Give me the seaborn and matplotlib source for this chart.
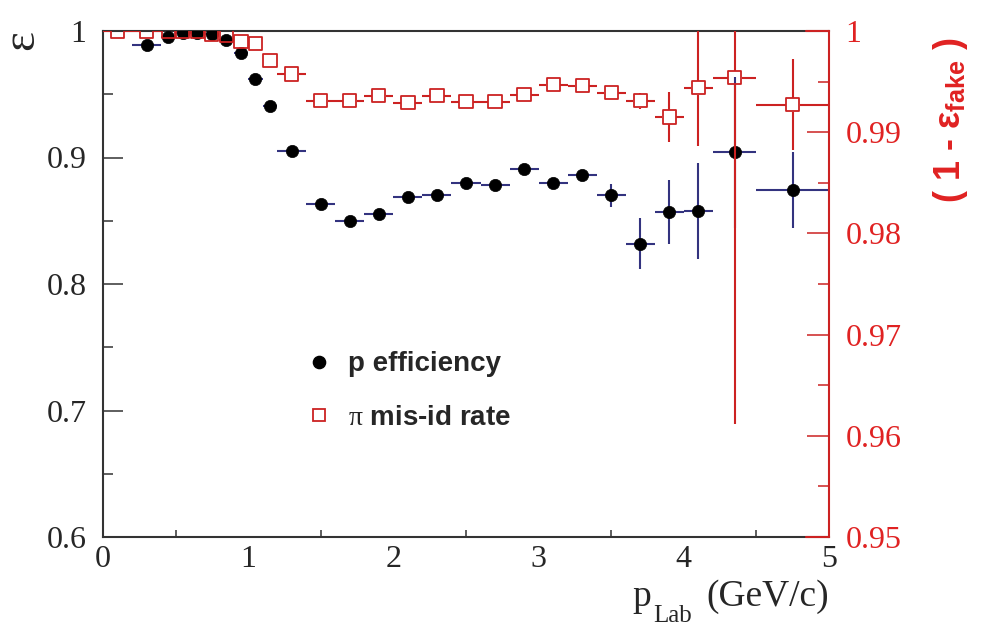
import matplotlib
matplotlib.use("Agg")
from matplotlib import pyplot as plt
from matplotlib.lines import Line2D
from matplotlib.ticker import MultipleLocator
import numpy as np
import seaborn as sns

# --- proton efficiency (left axis)
p_eff = [0.3, 0.45, 0.55, 0.65, 0.75, 0.85, 0.95, 1.05, 1.15, 1.3, 1.5, 1.7, 1.9,
         2.1, 2.3, 2.5, 2.7, 2.9, 3.1, 3.3, 3.5, 3.7, 3.9, 4.1, 4.35, 4.75]
p_eff_bin = [0.1, 0.05, 0.05, 0.05, 0.05, 0.05, 0.05, 0.05, 0.05, 0.1, 0.1, 0.1, 0.1,
             0.1, 0.1, 0.1, 0.1, 0.1, 0.1, 0.1, 0.1, 0.1, 0.1, 0.1, 0.15, 0.25]
eff = [0.989, 0.9955, 0.9987, 0.9987, 0.9976, 0.993, 0.983, 0.962, 0.941, 0.905, 0.863, 0.850, 0.855,
       0.869, 0.870, 0.880, 0.878, 0.891, 0.880, 0.886, 0.870, 0.832, 0.857, 0.858, 0.904, 0.874]
eff_err = [0.002, 0.001, 0.001, 0.001, 0.001, 0.001, 0.002, 0.002, 0.002, 0.002, 0.003, 0.003, 0.003,
           0.003, 0.003, 0.003, 0.003, 0.003, 0.004, 0.004, 0.009, 0.020, 0.025, 0.038, 0.060, 0.030]

# --- pion mis-id, shown as 1 - eps_fake (right axis)
p_pi = [0.1, 0.3, 0.45, 0.55, 0.65, 0.75, 0.85, 0.95, 1.05, 1.15, 1.3, 1.5, 1.7, 1.9,
        2.1, 2.3, 2.5, 2.7, 2.9, 3.1, 3.3, 3.5, 3.7, 3.9, 4.1, 4.35, 4.75]
p_pi_bin = [0.1, 0.1, 0.05, 0.05, 0.05, 0.05, 0.05, 0.05, 0.05, 0.05, 0.1, 0.1, 0.1, 0.1,
            0.1, 0.1, 0.1, 0.1, 0.1, 0.1, 0.1, 0.1, 0.1, 0.1, 0.1, 0.15, 0.25]
one_minus_fake = [1.0, 1.0, 1.0, 1.0, 1.0, 0.9997, 0.9996, 0.9990, 0.9988, 0.9971, 0.99575, 0.9931, 0.9931, 0.9936,
                  0.9929, 0.9936, 0.9930, 0.9930, 0.9937, 0.9947, 0.9946, 0.9939, 0.9931, 0.9915, 0.9944, 0.9954, 0.9927]
fake_err = [0.0001, 0.0001, 0.0001, 0.0001, 0.0001, 0.0001, 0.0001, 0.0001, 0.0001, 0.0002, 0.0002, 0.0002, 0.0002, 0.0002,
            0.0002, 0.0002, 0.0002, 0.0002, 0.0002, 0.0002, 0.0002, 0.0004, 0.0008, 0.0025, 0.0058, 0.0342, 0.0045]

RED = "#cc2222"
RED_TXT = "#e02222"
NAVY = "#33337f"

sns.set_theme(style="white")
plt.rcParams["font.family"] = ["Liberation Serif", "DejaVu Serif"]
plt.rcParams["mathtext.fontset"] = "custom"
plt.rcParams["mathtext.rm"] = "Liberation Serif"
plt.rcParams["mathtext.it"] = "Liberation Serif:italic"
plt.rcParams["mathtext.bf"] = "Liberation Sans:bold"

fig = plt.figure(figsize=(9.88, 6.31), dpi=100)
ax = fig.add_axes([103 / 988, 1 - 537 / 631, 726 / 988, 506 / 631])
ax2 = ax.twinx()

# efficiency points
ax.errorbar(p_eff, eff, xerr=p_eff_bin, yerr=eff_err, fmt="none",
            ecolor=NAVY, elinewidth=1.5, capsize=0, zorder=2)
sns.scatterplot(x=p_eff, y=eff, ax=ax, color="black", marker="o", s=78,
                edgecolor="black", linewidth=0.5, zorder=3)

# pion mis-id points: open squares, error bars stop at the marker edge (ROOT style)
x = np.array(p_pi)
xb = np.array(p_pi_bin)
y = np.array(one_minus_fake)
ye = np.array(fake_err)
gx = 7 / (726 / 5)        # half marker width in x units
gy = 7 / (506 / 0.05)     # half marker height in right-axis units
mx = xb > gx + 0.004
ax2.hlines(y[mx], x[mx] - xb[mx], x[mx] - gx, color=RED, lw=1.5, zorder=2)
ax2.hlines(y[mx], x[mx] + gx, x[mx] + xb[mx], color=RED, lw=1.5, zorder=2)
my = ye > gy
ax2.vlines(x[my], y[my] + gy, y[my] + ye[my], color=RED, lw=1.5, zorder=2)
ax2.vlines(x[my], y[my] - ye[my], y[my] - gy, color=RED, lw=1.5, zorder=2)
sns.scatterplot(x=p_pi, y=one_minus_fake, ax=ax2, marker="s", s=90,
                color=RED, edgecolor=RED, linewidth=1.3, zorder=3)
ax2.collections[-1].set_facecolor("none")

# axes ranges / ticks
ax.set_xlim(0, 5)
ax.set_ylim(0.6, 1.0)
ax2.set_ylim(0.95, 1.0)
ax.xaxis.set_major_locator(MultipleLocator(1))
ax.xaxis.set_minor_locator(MultipleLocator(0.5))
ax.yaxis.set_major_locator(MultipleLocator(0.1))
ax.yaxis.set_minor_locator(MultipleLocator(0.05))
ax2.yaxis.set_major_locator(MultipleLocator(0.01))
ax2.yaxis.set_minor_locator(MultipleLocator(0.005))
ax.set_xticks([0, 1, 2, 3, 4, 5], ["0", "1", "2", "3", "4", "5"])
ax.set_yticks([0.6, 0.7, 0.8, 0.9, 1.0], ["0.6", "0.7", "0.8", "0.9", "1"])
ax2.set_yticks([0.95, 0.96, 0.97, 0.98, 0.99, 1.0],
               ["0.95", "0.96", "0.97", "0.98", "0.99", "1"])

ax.tick_params(axis="y", which="major", direction="in", length=14.5, width=1.1,
               color="#333333", labelsize=23, pad=12, right=False)
ax.tick_params(axis="y", which="minor", direction="in", length=7.2, width=1.1,
               color="#333333", left=True, right=False)
ax.tick_params(axis="x", which="major", direction="in", length=10, width=1.1,
               color="#333333", labelsize=23, pad=6, top=False)
ax.tick_params(axis="x", which="minor", direction="in", length=4.7, width=1.1,
               color="#333333", bottom=True, top=False)
ax2.tick_params(axis="y", which="major", direction="in", length=16, width=1.1,
                color=RED, labelcolor=RED_TXT, labelsize=23, pad=12)
ax2.tick_params(axis="y", which="minor", direction="in", length=8, width=1.1,
                color=RED, right=True)

for s in ["left", "bottom", "top"]:
    ax.spines[s].set_color("#333333")
    ax.spines[s].set_linewidth(1.5)
    ax2.spines[s].set_visible(False)
ax.spines["right"].set_visible(False)
ax2.spines["right"].set_color(RED)
ax2.spines["right"].set_linewidth(1.5)
# red corner segments of the right-hand frame
ax2.axhline(1.0, xmin=0.968, xmax=1.0, color=RED, lw=1.5, clip_on=False, zorder=5)
ax2.axhline(0.95, xmin=0.968, xmax=1.0, color=RED, lw=1.5, clip_on=False, zorder=5)

ax.set_xlabel("")
ax.set_ylabel("")
ax2.set_ylabel("")
ax.grid(False)
ax2.grid(False)

# axis titles
fig.text(22 / 988, 1 - 40 / 631, "ε", rotation=90, ha="center", va="center",
         fontsize=34, family="Liberation Serif")
fig.text(829 / 988, 1 - 606 / 631, "(GeV/c)", ha="right", va="baseline",
         fontsize=27, family="Liberation Serif")
fig.text(632 / 988, 1 - 606 / 631, "p", ha="left", va="baseline",
         fontsize=27, family="Liberation Serif")
fig.text(653 / 988, 1 - 622 / 631, "Lab", ha="left", va="baseline",
         fontsize=18, family="Liberation Serif")
fig.text(950 / 988, 1 - 120 / 631, r"( 1 - $\mathbf{\varepsilon}_{\mathbf{fake}}$ )",
         rotation=90, ha="center", va="center", color=RED_TXT, fontsize=26,
         fontweight="bold", family="Liberation Sans")

# legend
handles = [
    Line2D([], [], ls="none", marker="o", ms=8.8, color="black"),
    Line2D([], [], ls="none", marker="s", ms=8.5, mfc="none", mec=RED, mew=1.3),
]
labels = ["p efficiency", r"$\mathrm{\pi}$ mis-id rate"]
leg = ax.legend(handles, labels, loc="upper left", bbox_to_anchor=(0.284, 0.367),
                frameon=False, handlelength=0.7, handletextpad=0.7,
                labelspacing=1.0, borderpad=0, borderaxespad=0,
                prop={"family": "Liberation Sans", "weight": "bold", "size": 20})

fig.savefig("out.png", dpi=100)
